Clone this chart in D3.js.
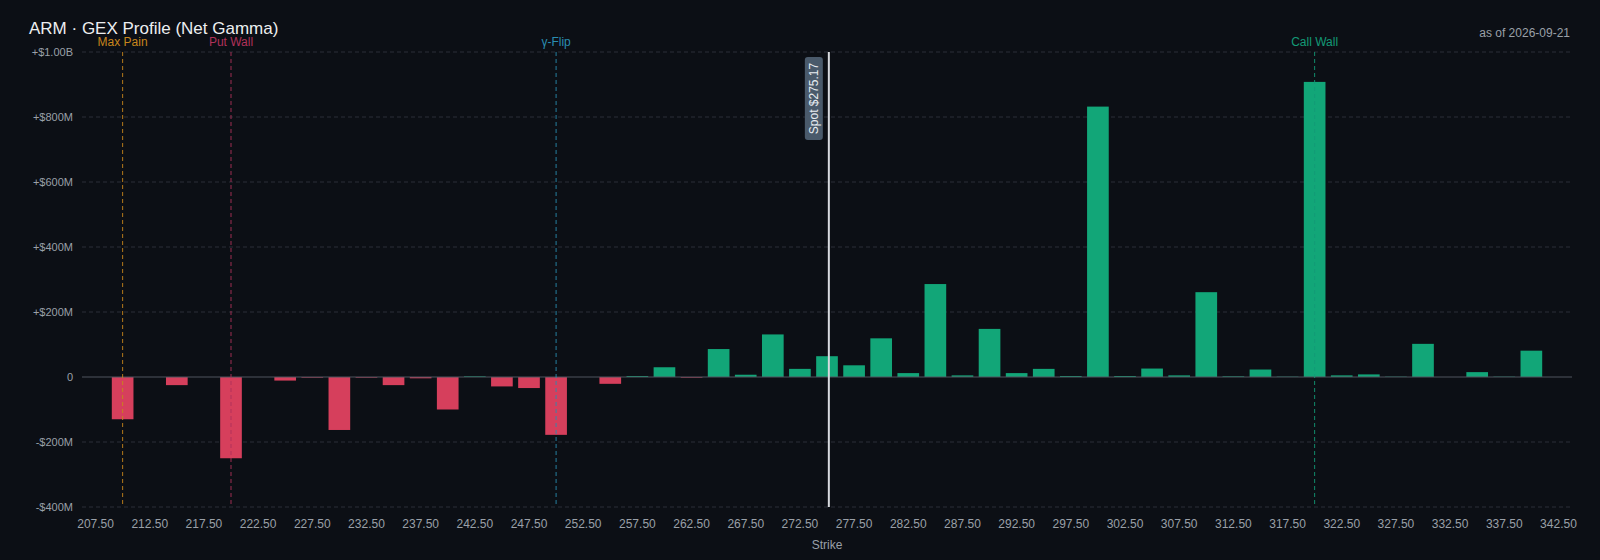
<!DOCTYPE html>
<html>
<head>
<meta charset="utf-8">
<script src="https://cdn.jsdelivr.net/npm/d3@7"></script>
<style>
  html, body { margin: 0; padding: 0; background: #0c0f15; }
  svg { display: block; font-family: "Liberation Sans", Arial, Helvetica, sans-serif; }
</style>
</head>
<body>
<svg id="chart" width="1600" height="560"></svg>
<script>
const title = "ARM · GEX Profile (Net Gamma)";
const asOf = "as of 2026-09-21";
const strikes = [207.5,210,212.5,215,217.5,220,222.5,225,227.5,230,232.5,235,237.5,240,242.5,245,247.5,250,252.5,255,257.5,260,262.5,265,267.5,270,272.5,275,277.5,280,282.5,285,287.5,290,292.5,295,297.5,300,302.5,305,307.5,310,312.5,315,317.5,320,322.5,325,327.5,330,332.5,335,337.5,340,342.5];
// net gamma in $M
const netGamma = [0,-130,0,-25,0,-250,0,-11,-2,-163,-2,-25,-4,-100,2,-29,-34,-178,0,-21,3,30,-2,86,7,131,25,64,36,119,12,286,5,148,12,25,3,832,3,26,5,261,2,23,1,908,5,8,1,102,0,15,1,81,0];
const yTicks = [-400,-200,0,200,400,600,800,1000];
const markerNames = ["Max Pain","Put Wall","γ-Flip","Call Wall"];
const markerStrikes = [210,220,250,320];
const markerColors = ["#c8861c","#b0325a","#2a8db0","#139a76"];
const spot = 275.17;

const W = 1600, H = 560;
const m = {left: 82, right: 28, top: 52, bottom: 53};
const svg = d3.select("#chart");
svg.append("rect").attr("width", W).attr("height", H).attr("fill", "#0c0f15");

const x = d3.scaleBand().domain(strikes).range([m.left, W - m.right]).paddingInner(0.2).paddingOuter(0.1);
const y = d3.scaleLinear().domain([-400, 1000]).range([H - m.bottom, m.top]);
const step = x.step();
const xVal = v => x(strikes[0]) + x.bandwidth() / 2 + (v - strikes[0]) / 2.5 * step;

const fmtY = v => {
  if (v === 0) return "0";
  const s = v > 0 ? "+" : "-";
  const a = Math.abs(v);
  return a >= 1000 ? `${s}$${(a/1000).toFixed(2)}B` : `${s}$${a}M`;
};

// gridlines
svg.append("g").selectAll("line").data(yTicks.filter(d => d !== 0)).join("line")
  .attr("x1", m.left).attr("x2", W - m.right)
  .attr("y1", d => y(d)).attr("y2", d => y(d))
  .attr("stroke", "#2a2f38").attr("stroke-width", 1).attr("stroke-dasharray", "4,3");

// y axis labels
const yAxis = d3.axisLeft(y).tickValues(yTicks).tickFormat(fmtY).tickSize(0).tickPadding(9);
const gy = svg.append("g").attr("transform", `translate(${m.left},0)`).call(yAxis);
gy.select(".domain").remove();
gy.selectAll("text").attr("fill", "#9aa0a8").style("font-size", "11px").style("font-family", "Liberation Sans, Arial, sans-serif");

// x axis labels
const xAxis = d3.axisBottom(x).tickValues(strikes.filter((d, i) => i % 2 === 0)).tickFormat(d => d.toFixed(2)).tickSize(0).tickPadding(12);
const gx = svg.append("g").attr("transform", `translate(0,${H - m.bottom})`).call(xAxis);
gx.select(".domain").remove();
gx.selectAll("text").attr("fill", "#9aa0a8").style("font-size", "12px").style("font-family", "Liberation Sans, Arial, sans-serif");

// bars
svg.append("g").selectAll("rect").data(strikes).join("rect")
  .attr("x", d => x(d))
  .attr("width", x.bandwidth())
  .attr("y", (d, i) => y(Math.max(0, netGamma[i])))
  .attr("height", (d, i) => Math.abs(y(netGamma[i]) - y(0)))
  .attr("fill", (d, i) => netGamma[i] >= 0 ? "#12a678" : "#d63f5c");

// zero line
svg.append("line").attr("x1", m.left).attr("x2", W - m.right)
  .attr("y1", y(0)).attr("y2", y(0)).attr("stroke", "#4e545e").attr("stroke-width", 1);

// marker lines
const mk = svg.append("g");
markerNames.forEach((name, i) => {
  const xp = xVal(markerStrikes[i]);
  mk.append("line").attr("x1", xp).attr("x2", xp).attr("y1", m.top).attr("y2", H - m.bottom)
    .attr("stroke", markerColors[i]).attr("stroke-width", 1).attr("stroke-dasharray", "4,3").attr("opacity", 0.9);
  mk.append("text").attr("x", xp).attr("y", m.top - 6).attr("text-anchor", "middle")
    .attr("fill", markerColors[i]).style("font-size", "12px").text(name);
});

// spot line
const sx = xVal(spot);
svg.append("line").attr("x1", sx).attr("x2", sx).attr("y1", m.top).attr("y2", H - m.bottom)
  .attr("stroke", "#d8dadf").attr("stroke-width", 2);
const lblCx = sx - 15, lblCy = 98.5;
svg.append("rect").attr("x", lblCx - 9).attr("y", lblCy - 41.5).attr("width", 18).attr("height", 83)
  .attr("rx", 3).attr("fill", "#4a5a6b");
svg.append("text").attr("transform", `translate(${lblCx + 4.2},${lblCy}) rotate(-90)`)
  .attr("text-anchor", "middle").attr("fill", "#e8edf2").style("font-size", "12px")
  .text(`Spot $${spot.toFixed(2)}`);

// title
svg.append("text").attr("x", 29).attr("y", 34).attr("fill", "#eceef0").style("font-size", "17px").text(title);
svg.append("text").attr("x", W - 30).attr("y", 37).attr("text-anchor", "end").attr("fill", "#9aa0a8").style("font-size", "12px").text(asOf);

// x axis title
svg.append("text").attr("x", (m.left + W - m.right) / 2).attr("y", 549).attr("text-anchor", "middle")
  .attr("fill", "#9aa0a8").style("font-size", "12px").text("Strike");
</script>
</body>
</html>
